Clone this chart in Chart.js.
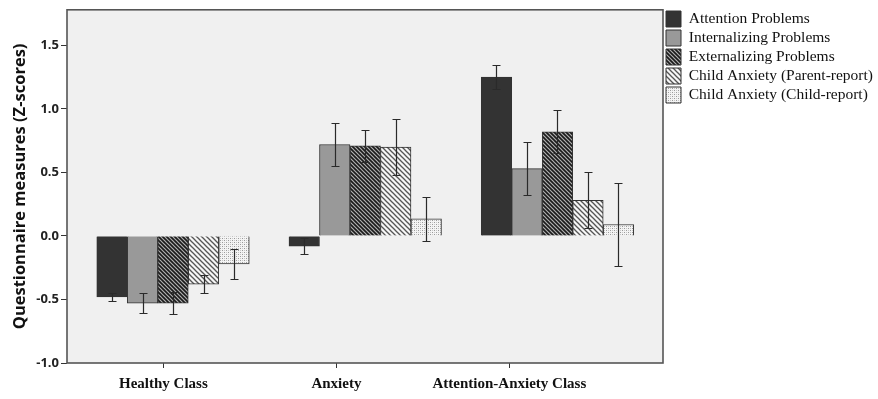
<!DOCTYPE html>
<html>
<head>
<meta charset="utf-8">
<script src="https://cdn.jsdelivr.net/npm/chart.js@4.4.1/dist/chart.umd.min.js"></script>
<style>
  html, body { margin: 0; padding: 0; background: #fff; }
</style>
</head>
<body>
<canvas id="chart" width="878" height="399"></canvas>
<script>
// ── Data ──
var groups = ['Healthy Class', 'Anxiety', 'Attention-Anxiety Class'];
var groupX = [0, 1, 2];            // where each group of bars sits
var labelX = [-0.05, 0.85, 1.75];  // where SPSS put the category labels
var yTicks = [-1.0, -0.5, 0.0, 0.5, 1.0, 1.5];

var seriesNames = [
  'Attention Problems',
  'Internalizing Problems',
  'Externalizing Problems',
  'Child Anxiety (Parent-report)',
  'Child Anxiety (Child-report)'
];
var attention        = [-0.48, -0.08, 1.25];
var attentionErr     = [0.03, 0.06, 0.095];
var internalizing    = [-0.53, 0.72, 0.53];
var internalizingErr = [0.08, 0.17, 0.21];
var externalizing    = [-0.53, 0.71, 0.82];
var externalizingErr = [0.085, 0.125, 0.17];
var parentAnxiety    = [-0.38, 0.70, 0.28];
var parentAnxietyErr = [0.07, 0.22, 0.22];
var childAnxiety     = [-0.22, 0.135, 0.09];
var childAnxietyErr  = [0.115, 0.175, 0.325];

// ── Fill patterns ──

function stripes(bg, fg, size, width) {
  var c = document.createElement('canvas');
  c.width = size; c.height = size;
  var g = c.getContext('2d');
  g.fillStyle = bg;
  g.fillRect(0, 0, size, size);
  g.strokeStyle = fg;
  g.lineWidth = width;
  for (var k = -1; k <= 1; k++) {
    g.beginPath();
    g.moveTo(k * size - 1, -1);
    g.lineTo(k * size + size + 1, size + 1);
    g.stroke();
  }
  return g.createPattern(c, 'repeat');
}

function dots() {
  var c = document.createElement('canvas');
  c.width = 4; c.height = 4;
  var g = c.getContext('2d');
  g.fillStyle = '#f4f4f4';
  g.fillRect(0, 0, 4, 4);
  g.fillStyle = '#9a9a9a';
  g.fillRect(0, 0, 1, 1);
  g.fillRect(2, 2, 1, 1);
  g.fillStyle = '#c8c8c8';
  g.fillRect(2, 0, 1, 1);
  g.fillRect(0, 2, 1, 1);
  return g.createPattern(c, 'repeat');
}

var fills = [
  '#333333',
  '#999999',
  stripes('#1a1a1a', '#b0b0b0', 4, 1.2),
  stripes('#f6f6f6', '#555555', 5, 1.3),
  dots()
];
var values = [attention, internalizing, externalizing, parentAnxiety, childAnxiety];
var errors = [attentionErr, internalizingErr, externalizingErr, parentAnxietyErr, childAnxietyErr];

var datasets = seriesNames.map(function(name, s) {
  return {
    label: name,
    data: groupX.map(function(x, i) { return { x: x, y: values[s][i] }; }),
    err: errors[s],
    backgroundColor: fills[s],
    borderColor: '#333333',
    borderWidth: 1,
    barThickness: 30.5
  };
});

// ── Plot frame, background and error bars ──

var spssLook = {
  id: 'spssLook',
  beforeDraw: function(chart) {
    var a = chart.chartArea, ctx = chart.ctx;
    ctx.save();
    ctx.fillStyle = '#f0f0f0';
    ctx.fillRect(a.left, a.top, a.right - a.left, a.bottom - a.top);
    ctx.restore();
  },
  afterDatasetsDraw: function(chart) {
    var ctx = chart.ctx, y = chart.scales.y;
    ctx.save();
    ctx.strokeStyle = '#2a2a2a';
    ctx.lineWidth = 1.2;
    chart.data.datasets.forEach(function(ds, s) {
      chart.getDatasetMeta(s).data.forEach(function(bar, i) {
        var v = ds.data[i].y, e = ds.err[i];
        var top = Math.round(y.getPixelForValue(v + e)) + 0.5;
        var bot = Math.round(y.getPixelForValue(v - e)) + 0.5;
        var x = Math.round(bar.x) + 0.5;
        ctx.beginPath();
        ctx.moveTo(x, top); ctx.lineTo(x, bot);
        ctx.moveTo(x - 4, top); ctx.lineTo(x + 4, top);
        ctx.moveTo(x - 4, bot); ctx.lineTo(x + 4, bot);
        ctx.stroke();
      });
    });
    ctx.restore();
  },
  afterDraw: function(chart) {
    var a = chart.chartArea, ctx = chart.ctx;
    ctx.save();
    ctx.strokeStyle = '#555555';
    ctx.lineWidth = 1.6;
    ctx.strokeRect(a.left, a.top, a.right - a.left, a.bottom - a.top);
    ctx.restore();
  }
};

new Chart(document.getElementById('chart'), {
  type: 'bar',
  data: { datasets: datasets },
  plugins: [spssLook],
  options: {
    responsive: false,
    animation: false,
    layout: { padding: { top: 8, right: 0, bottom: 0, left: 0 } },
    plugins: {
      tooltip: { enabled: false },
      legend: {
        position: 'right',
        align: 'start',
        maxWidth: 215,
        labels: {
          boxWidth: 15,
          boxHeight: 16,
          padding: 3,
          color: '#111',
          font: { family: '"Liberation Serif", "Times New Roman", serif', size: 15.5 }
        }
      }
    },
    scales: {
      x: {
        type: 'linear',
        offset: false,
        min: -0.5515,
        max: 2.549,
        afterFit: function(scale) { scale.height = 36; },
        afterBuildTicks: function(scale) {
          scale.ticks = labelX.map(function(v) { return { value: v }; });
        },
        grid: { offset: false, drawOnChartArea: false, color: '#333', tickLength: 5 },
        border: { display: false },
        ticks: {
          autoSkip: false,
          maxRotation: 0,
          padding: 7,
          color: '#111',
          font: { family: '"Liberation Serif", "Times New Roman", serif', size: 15, weight: 'bold' },
          callback: function(v) {
            var i = labelX.indexOf(v);
            return i >= 0 ? groups[i] : '';
          }
        }
      },
      y: {
        min: -1.0,
        max: 1.78,
        afterFit: function(scale) { scale.width = 67; },
        afterBuildTicks: function(scale) {
          scale.ticks = yTicks.map(function(v) { return { value: v }; });
        },
        grid: { drawOnChartArea: false, color: '#333', tickLength: 6 },
        border: { display: false },
        title: {
          display: true,
          text: 'Questionnaire measures (Z-scores)',
          color: '#111',
          padding: { top: 10, bottom: 0 },
          font: { family: '"Open Sans", Arial, sans-serif', size: 16.5, weight: 'bold' }
        },
        ticks: {
          padding: 2,
          color: '#222',
          font: { family: '"Open Sans", Arial, sans-serif', size: 13, weight: 'bold' },
          callback: function(v) { return v.toFixed(1); }
        }
      }
    }
  }
});
</script>
</body>
</html>
